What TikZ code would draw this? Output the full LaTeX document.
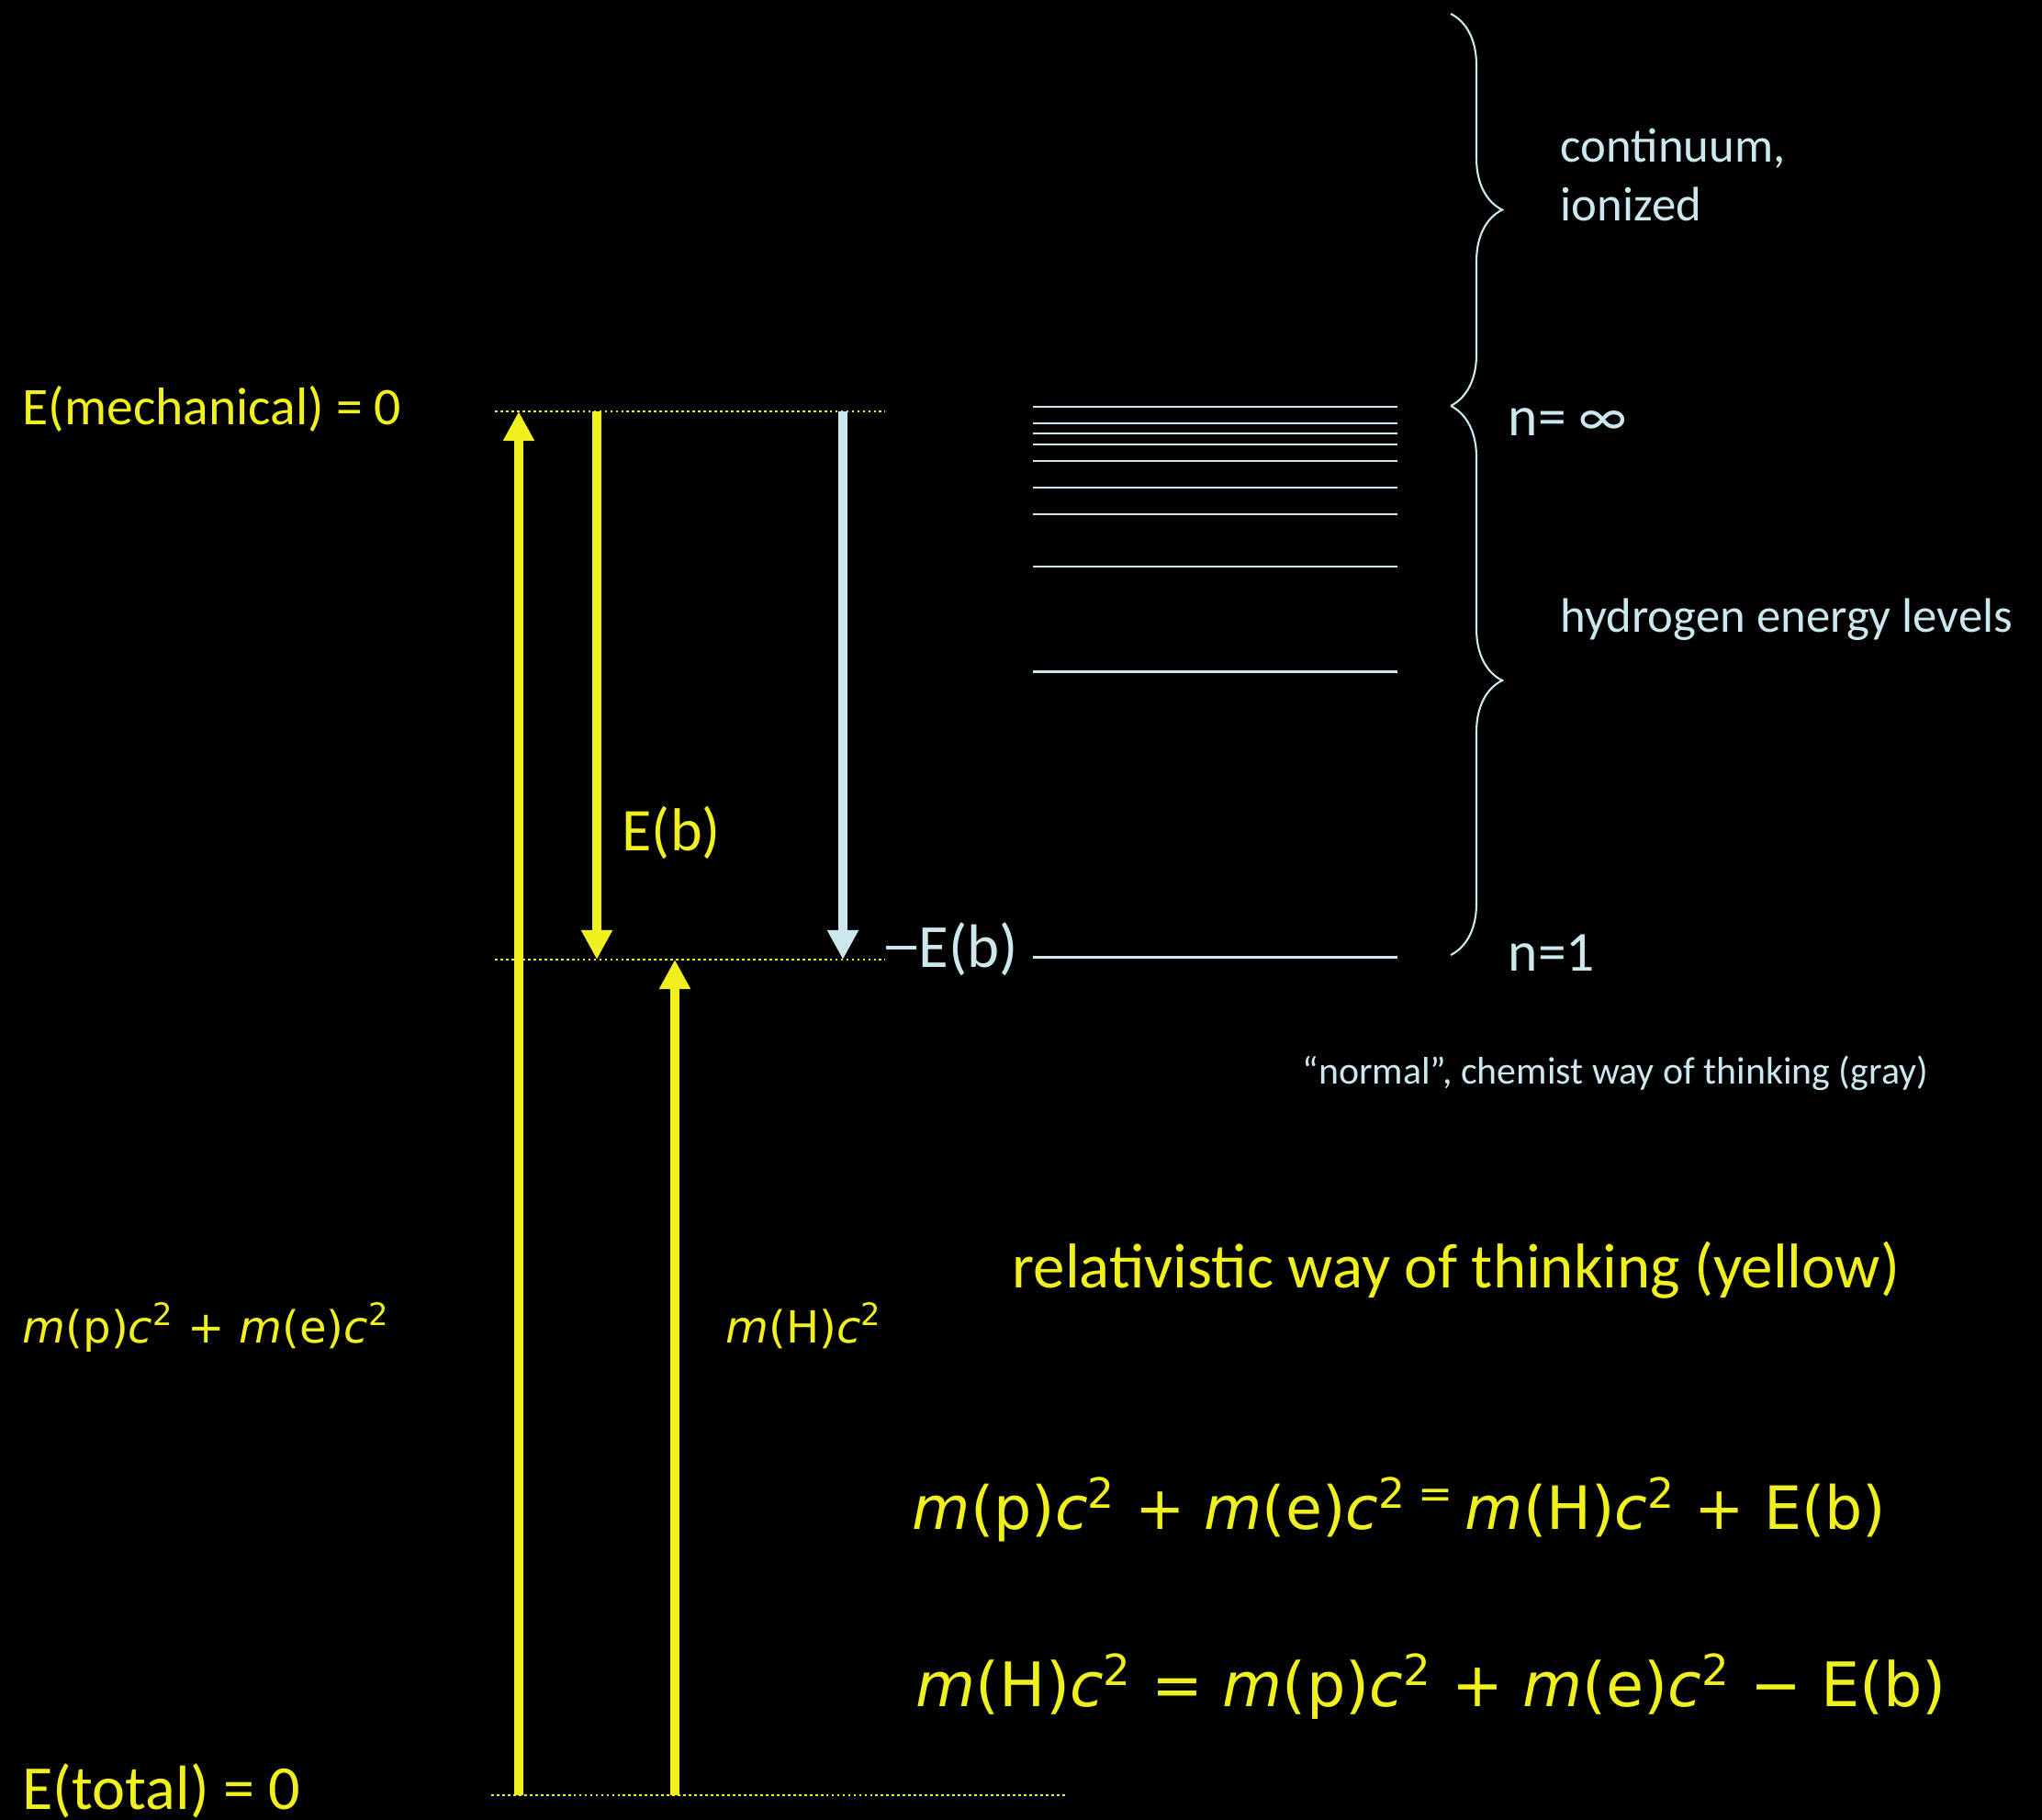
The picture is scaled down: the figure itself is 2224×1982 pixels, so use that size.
\documentclass[tikz,border=0pt]{standalone}
\usepackage{fontspec}
\setmainfont{Carlito}
\newfontfamily\eqfont{DejaVu Sans}
\usetikzlibrary{arrows.meta,positioning,decorations.pathreplacing}
\definecolor{hyellow}{RGB}{240,240,30}
\definecolor{hblue}{RGB}{204,232,238}
\newcommand{\mcsq}[1]{\textit{m}(#1)\textit{c}\textsuperscript{2}}

\begin{document}
\begin{tikzpicture}[
  x=0.01cm, y=-0.01cm,
  lbl/.style={inner sep=0pt, anchor=base west},
  ylbl/.style={lbl, text=hyellow},
  blbl/.style={lbl, text=hblue},
  arrow/.style={-{Triangle[width=0.32cm,length=0.32cm]}, line width=3.1pt},
  level/.style={hblue, line width=0.85pt},
  zeroline/.style={hyellow, line width=0.8pt, dash pattern=on 0.8pt off 0.9pt},
  bracket/.style={hblue, line width=0.6pt, decorate, decoration={brace, amplitude=0.56cm}}
]
\fill[black] (0,0) rectangle (2224,1982);
\useasboundingbox (0,0) rectangle (2224,1982);

% zero lines
\coordinate (mechL) at (539,448);
\coordinate (mechR) at (964,448);
\coordinate (bindL) at (539,1045);
\coordinate (bindR) at (964,1045);
\coordinate (totL) at (535,1955);
\coordinate (totR) at (1160,1955);
\draw[zeroline] (mechL) -- (mechR);
\draw[zeroline] (bindL) -- (bindR);
\draw[zeroline] (totL) -- (totR);

% arrows
\coordinate (colA) at (565,1955);
\coordinate (colB) at (650,448);
\coordinate (colC) at (918,448);
\coordinate (colD) at (735,1955);
\draw[arrow, hyellow] (colA) -- (colA |- mechL);
\draw[arrow, hyellow] (colB) -- (colB |- bindL);
\draw[arrow, hblue] (colC) -- (colC |- bindL);
\draw[arrow, hyellow] (colD) -- (colD |- bindL);

% hydrogen levels
\foreach \y in {443,461,472,484,502,531,560,617,731,1042}
  \draw[level] (1125,\y) -- (1522,\y);
\draw[bracket] (1580,15) -- (1580,442);
\draw[bracket] (1580,442) -- (1580,1040);

% labels
\node[ylbl, font=\fontsize{16.4}{19}\selectfont] (mech) at (24,462) {E(mechanical) = 0};
\node[ylbl, font=\fontsize{19.4}{23}\selectfont] (total) at (24,1970) {E(total) = 0};
\node[ylbl, font=\fontsize{18.8}{22}\selectfont] (eb) at (677,926) {E(b)};
\node[blbl, font=\fontsize{19}{22}\selectfont] (meb) at (964,1053) {\rule[0.28em]{0.5em}{0.06em}\kern0.04em E(b)};
\node[blbl, font=\fontsize{17.5}{20}\selectfont] (ninf) at (1642,474) {n= ∞};
\node[blbl, font=\fontsize{17.5}{20}\selectfont] (none) at (1642,1057) {n=1};
\node[blbl, font=\fontsize{15}{18}\selectfont] (cont) at (1699,176) {continuum,};
\node[blbl, font=\fontsize{15}{18}\selectfont] (ion) at ([yshift=-0.64cm]cont.base west) {ionized};
\node[blbl, font=\fontsize{15}{18}\selectfont] (hyd) at (1699,688) {hydrogen energy levels};
\node[blbl, font=\fontsize{11.9}{14}\selectfont] (chem) at (1418,1180) {“normal”, chemist way of thinking (gray)};
\node[ylbl, font=\fontsize{19.6}{23}\selectfont] (rel) at (1102,1402) {relativistic way of thinking (yellow)};

% mass terms
\node[ylbl, font=\eqfont\fontsize{13.7}{16}\selectfont] (masssum) at (24,1462) {\mcsq{p} + \mcsq{e}};
\node[ylbl, font=\eqfont\fontsize{13.7}{16}\selectfont] (massH) at (790,1462) {\mcsq{H}};
\node[ylbl, font=\eqfont\fontsize{18.5}{23}\selectfont] (eqone) at (993,1665)
  {\mcsq{p} + \textit{m}(e)\textit{c}\textsuperscript{2 =}\,\mcsq{H} + E(b)};
\node[ylbl, font=\eqfont\fontsize{19}{23}\selectfont] (eqtwo) at (997,1858)
  {\mcsq{H} = \mcsq{p} + \mcsq{e} − E(b)};
\end{tikzpicture}
\end{document}
